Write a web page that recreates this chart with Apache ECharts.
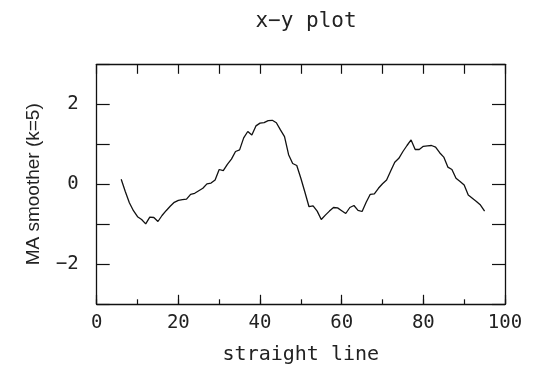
<!DOCTYPE html>
<html>
<head>
<meta charset="utf-8">
<script src="https://cdn.jsdelivr.net/npm/echarts@6/dist/echarts.min.js"></script>
<style>
  html, body { margin: 0; padding: 0; background: #fff; }
  #chart { width: 536px; height: 374px; }
</style>
</head>
<body>
<div id="chart"></div>
<script>
// x positions of the smoothed series
const xValues = [
  6, 7, 8, 9, 10, 11, 12, 13, 14, 15, 16, 17, 18, 19, 20, 21, 22, 23, 24, 25,
  26, 27, 28, 29, 30, 31, 32, 33, 34, 35, 36, 37, 38, 39, 40, 41, 42, 43, 44, 45,
  46, 47, 48, 49, 50, 51, 52, 53, 54, 55, 56, 57, 58, 59, 60, 61, 62, 63, 64, 65,
  66, 67, 68, 69, 70, 71, 72, 73, 74, 75, 76, 77, 78, 79, 80, 81, 82, 83, 84, 85,
  86, 87, 88, 89, 90, 91, 92, 93, 94, 95
];
// MA smoother (k=5) values
const smoothValues = [
  0.125, -0.18, -0.46, -0.66, -0.81, -0.88, -0.99, -0.82, -0.83, -0.93,
  -0.78, -0.66, -0.55, -0.45, -0.40, -0.385, -0.37, -0.25, -0.225, -0.16,
  -0.10, 0.01, 0.03, 0.11, 0.37, 0.34, 0.50, 0.63, 0.82, 0.86,
  1.16, 1.32, 1.23, 1.46, 1.53, 1.54, 1.59, 1.60, 1.54, 1.36,
  1.19, 0.74, 0.52, 0.47, 0.15, -0.20, -0.56, -0.54, -0.67, -0.88,
  -0.77, -0.67, -0.58, -0.59, -0.66, -0.73, -0.58, -0.53, -0.65, -0.68,
  -0.45, -0.25, -0.24, -0.10, 0.015, 0.11, 0.33, 0.55, 0.65, 0.82,
  0.97, 1.11, 0.87, 0.87, 0.95, 0.96, 0.97, 0.93, 0.79, 0.68,
  0.43, 0.37, 0.15, 0.07, -0.02, -0.27, -0.35, -0.43, -0.52, -0.67
];
const yTickLabels = [-2, 0, 2];

const chart = echarts.init(document.getElementById('chart'), null, { renderer: 'canvas' });

const hershey = '"DejaVu Sans Mono", monospace';
const lineCol = '#111';

const option = {
  backgroundColor: '#fff',
  animation: false,
  title: {
    text: 'x\u2212y plot',
    left: 301,
    top: 6,
    textAlign: 'center',
    textStyle: { fontFamily: hershey, fontSize: 21, fontWeight: 'normal', color: '#222' }
  },
  grid: { left: 96.7, right: 31, top: 64.3, bottom: 69.7, containLabel: false },
  xAxis: [
    {
      type: 'value', position: 'bottom', min: 0, max: 100, interval: 20,
      axisLine: { show: true, onZero: false, lineStyle: { color: lineCol, width: 1.3 } },
      axisTick: { show: true, inside: true, length: 9.5, lineStyle: { color: lineCol, width: 1.2 } },
      axisLabel: { margin: 9, fontFamily: hershey, fontSize: 19, color: '#222' },
      splitLine: { show: false },
      name: 'straight line', nameLocation: 'middle', nameGap: 40,
      nameTextStyle: { fontFamily: hershey, fontSize: 20, color: '#222' }
    },
    {
      type: 'value', position: 'bottom', min: 0, max: 100, interval: 10,
      axisLine: { show: false, onZero: false },
      axisTick: { show: true, inside: true, length: 5, lineStyle: { color: lineCol, width: 1.2 } },
      axisLabel: { show: false },
      splitLine: { show: false }
    },
    {
      type: 'value', position: 'top', min: 0, max: 100, interval: 10,
      axisLine: { show: true, onZero: false, lineStyle: { color: lineCol, width: 1.3 } },
      axisTick: { show: true, inside: true, length: 9.5, lineStyle: { color: lineCol, width: 1.2 } },
      axisLabel: { show: false },
      splitLine: { show: false }
    }
  ],
  yAxis: [
    {
      type: 'value', position: 'left', min: -3, max: 3, interval: 1,
      axisLine: { show: true, onZero: false, lineStyle: { color: lineCol, width: 1.3 } },
      axisTick: { show: true, inside: true, length: 13, lineStyle: { color: lineCol, width: 1.2 } },
      axisLabel: {
        margin: 18, fontFamily: hershey, fontSize: 19, color: '#222',
        formatter: v => (yTickLabels.indexOf(v) >= 0 ? String(v).replace('-', '\u2212') : '')
      },
      splitLine: { show: false },
      name: 'MA smoother (k=5)', nameLocation: 'middle', nameGap: 53, nameRotate: 90,
      nameTextStyle: { fontFamily: '"Liberation Sans", Arial, sans-serif', fontSize: 19, color: '#222' }
    },
    {
      type: 'value', position: 'right', min: -3, max: 3, interval: 1,
      axisLine: { show: true, onZero: false, lineStyle: { color: lineCol, width: 1.3 } },
      axisTick: { show: true, inside: true, length: 13, lineStyle: { color: lineCol, width: 1.2 } },
      axisLabel: { show: false },
      splitLine: { show: false }
    }
  ],
  series: [{
    type: 'line',
    xAxisIndex: 0,
    yAxisIndex: 0,
    data: xValues.map((x, i) => [x, smoothValues[i]]),
    showSymbol: false,
    symbol: 'none',
    lineStyle: { color: '#111', width: 1.3 }
  }]
};

chart.setOption(option);
</script>
</body>
</html>
